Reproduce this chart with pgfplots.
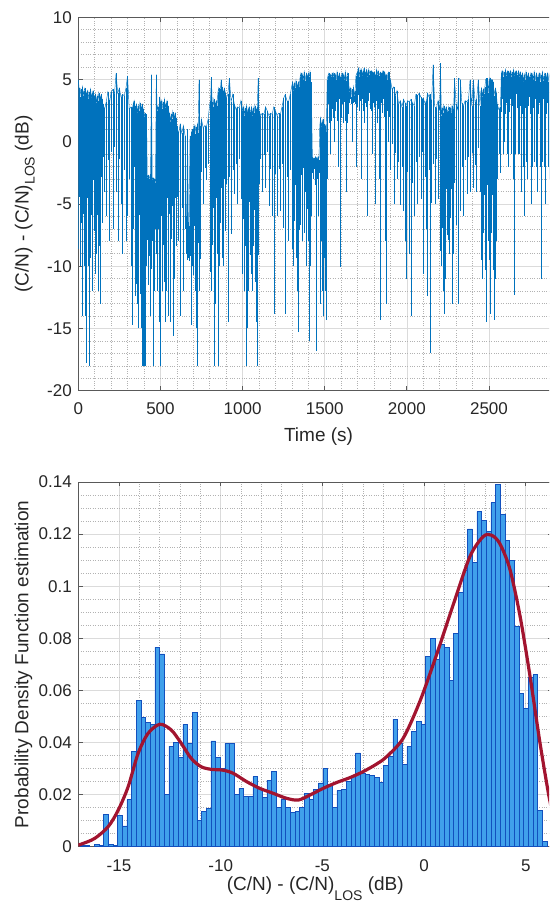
\documentclass[border=0pt]{standalone}
\usepackage{fontspec}
\setmainfont{Liberation Sans}
\usepackage{pgfplots}
\usepackage{pgfplotstable}
\pgfplotsset{compat=1.18}
\definecolor{mblue}{HTML}{0072BD}
\definecolor{mred}{HTML}{A2142F}
\definecolor{barfill}{RGB}{64,160,235}
\definecolor{baredge}{RGB}{18,80,190}
\pgfplotsset{
  mystyle/.style={
    scale only axis,
    axis line style={black!65, line width=0.8pt},
    tick align=inside,
    major tick length=4.5pt,
    minor tick length=0pt,
    major tick style={black!65, line width=0.8pt},
    grid=both,
    major grid style={black!14, line width=0.6pt},
    minor grid style={black!30, dotted, line width=0.6pt},
    /pgf/number format/assume math mode=true,
    /pgf/number format/1000 sep={},
    tick label style={font=\fontsize{17}{17}\selectfont, text=black!85},
    label style={font=\fontsize{19}{19}\selectfont, text=black!85},
    xticklabel style={anchor=base, inner sep=0pt, yshift=-24.3pt},
    yticklabel style={anchor=east, inner sep=0pt, xshift=-6.3pt},
  }
}
% time series: upper and lower excursion (dB) in each short time slot
\pgfplotstableread{
t top bot
0 5 -8.6
5 4.3 -4.4
10 3.6 -10
15 4.2 -6.5
20 3.8 -3.7
25 4.4 -14
30 3.7 -5.8
35 4.1 -10
40 4.3 -14
45 3.9 -7.2
50 3.8 -17.8
55 4.1 -4.5
60 3.4 -10
65 4.0 -18
70 3.6 -3.8
75 4.2 -9.3
80 3.5 -5.9
85 3.9 -12
90 4.1 -3.1
95 3.7 -7.2
100 3.5 -7.8
105 3.8 -10.6
110 3.1 -9
115 3.7 -5.9
120 3.3 -12
125 3.9 -8.4
130 3.2 -5.3
135 3.6 -13
140 3.8 -2.8
145 3.4 -6.5
150 3 -1.2
160 2.6 -4
170 3.2 -6
180 4.0 -1.5
190 3.1 -8
200 4 -0.8
210 4.2 -7
220 3.8 -0.4
230 5.5 -4
240 3.9 -8
250 4.3 -1.4
260 3.6 -5
270 3.8 -9
280 3.7 -2.3
290 4.3 -8
300 5.3 -6
310 2.6 -3
320 2.8 -10
330 2.7 -14.7
335 3.1 -7
340 3.3 -2
345 2.9 -12.4
350 2.7 -11.4
355 3.0 -6.7
360 2.3 -13
365 2.9 -15
370 2.5 -5.9
375 3.1 -12.2
380 2.4 -8.3
385 2.8 -15
390 3.0 -18
395 2.6 -18
400 2 -18
405 2.3 -9
410 1.6 -18
415 2.2 -10
420 -2.9 -7.9
425 -2.7 -11.5
430 -3.0 -9.2
435 -2.8 -12
440 -2.6 -14
445 5.4 -10.2
450 -3.1 -8
455 -2.9 -18
460 -3.2 -10
465 -3.0 -12
470 -3.3 -7
475 5.4 -9
480 2.5 -12
485 2.8 -7
490 2.2 -14.5
495 3.6 -9
500 3 -18
505 3.3 -6
510 2.6 -12
515 3.2 -8.3
520 2.8 -5.3
525 3.4 -11.3
530 2.7 -14.5
535 3.1 -12
540 3.3 -4.5
545 2.9 -14
550 2 -9.7
555 2.3 -5.8
560 1.6 -14.5
565 2.2 -7.8
570 1.8 -5.2
575 2.4 -10.4
580 1.7 -15.6
585 2.1 -11
590 2.3 -4.5
595 1.9 -8.4
600 1.3 -4.4
610 0.6 -8
620 1.4 -14
630 0.7 -5.3
640 1.3 -12
650 0.5 -7
655 -6.0 -9
660 -6.3 -9.5
665 1.0 -9
670 -6.5 -9.3
675 -6.8 -9.6
680 0.5 -9.2
685 -6.2 -9.5
690 0.8 -14.7
695 1.0 -10
700 1 -10.7
705 1.3 -6.8
710 0.6 -12
715 1.2 -15
720 0.8 -6.2
725 1.4 -18
730 0.7 -8.1
735 5.0 -12
740 1.3 -5.5
745 0.9 -9.4
750 1.8 -2.4
760 1.1 -5
770 1.3 -2.1
780 1.2 -3.1
790 1.8 -1.8
800 3 -10.5
805 3.3 -6
810 5.2 -12
815 3.2 -8.3
820 2.8 -5.3
825 3.4 -18
830 2.7 -7.5
835 3.1 -13
840 3.3 -4.5
845 2.9 -9
850 4 -18
855 4.3 -4.4
860 3.6 -10
865 4.2 -6.5
870 5.0 -3.7
875 4.4 -9.3
880 3.7 -5.8
885 4.1 -10
890 4.3 -3
895 3.9 -7.2
900 3.5 -3.4
910 3.8 -14.5
920 5.1 -2.8
930 3.2 -7.4
940 3.8 -2.3
950 3 -4.2
960 2.6 -1.8
970 2.8 -5
980 2.7 -1.4
990 3.3 -4.6
1000 2.5 -10.6
1005 2.8 -6.2
1010 2.1 -12
1015 2.7 -8.4
1020 2.3 -18
1025 2.9 -11.3
1030 2.2 -15
1035 2.6 -12
1040 2.8 -4.8
1045 2.4 -9.1
1050 2.5 -10.6
1055 2.8 -6.2
1060 2.1 -12
1065 2.7 -8.4
1070 2.3 -5.5
1075 2.9 -11.3
1080 2.2 -14.5
1085 2.6 -12
1090 2.8 -18
1095 5.1 -9.1
1100 2.5 -3.4
1110 2.1 -1.4
1120 2.3 -4
1130 2.2 -1.1
1140 2.8 -3.7
1150 2.5 -0.8
1160 2.1 -5.2
1170 2.3 -2.2
1180 2.2 -6
1190 2.8 -13.8
1200 2.5 -2.6
1210 2.1 -6
1220 2.3 -2.2
1230 2.2 -5.6
1240 2.8 -1.8
1250 3.5 -6.9
1260 3.8 -13.8
1270 3.3 -2.8
1280 3.2 -8
1290 3.8 -2.3
1300 4.5 -8.6
1305 4.8 -4.2
1310 4.1 -10
1315 4.7 -6.4
1320 4.3 -3.5
1325 4.9 -9.3
1330 4.2 -12
1335 4.6 -10
1340 4.8 -15.3
1345 4.4 -7.1
1350 5.2 -6.7
1355 5.5 -2.7
1360 4.8 -8
1365 5.4 -4.7
1370 5.0 -2.1
1375 5.6 -7.3
1380 4.9 -4
1385 5.3 -10
1390 5.5 -1.4
1395 5.1 -5.4
1400 5.5 -8
1405 5.2 -16
1410 5.6 -10
1415 4.8 -3
1420 3.0 -6
1425 -1.2 -2.5
1430 -1.4 -3
1435 -1.3 -2.2
1440 -1.5 -3.5
1445 -1.2 -2.8
1450 -1.3 -16.8
1455 -1.4 -3
1460 -1.2 -6
1465 -1.5 -2.5
1470 1.3 -13
1475 1.9 -11.3
1480 1.2 -8
1485 1.6 -12
1490 1.8 -14
1495 1.4 -9.3
1500 1.0 -12
1505 1.3 -8
1510 0.8 -14.3
1515 5.0 -3
1520 5.3 3.0
1525 5.5 1.5
1530 5.1 2.45
1535 5.4 -1
1540 5.2 1.7
1545 5.5 2.65
1550 5.2 1.9
1555 5.5 3.0
1560 4.8 0
1565 5.4 2.45
1570 5.0 3.2
1575 5.6 1.7
1580 4.9 -2
1585 5.3 1.5
1590 5.5 3.4
1595 5.1 -10.1
1600 5.2 1.9
1605 5.5 3.0
1610 4.8 1.5
1615 5.4 2.45
1620 5.0 3.2
1625 5.6 1.7
1630 4.9 -4
1635 5.3 1.5
1640 5.5 3.4
1645 5.1 2.25
1650 4.0 3.1
1655 4.3 3.4
1660 3.6 3.0
1665 4.2 3.3
1670 3.8 0
1675 4.4 3.1
1680 3.7 3.2
1685 4.1 3.0
1690 5.3 -2
1695 5.5 3.5
1700 5.6 2.8
1705 5.9 3.75
1710 5.2 2.5
1715 5.8 3.3
1720 5.4 -3
1725 5.8 2.65
1730 5.3 3.45
1735 5.7 2.5
1740 5.9 1.5
1745 5.5 3.1
1750 5.6 2.8
1755 5.8 3.75
1760 5.2 -6
1765 5.8 3.3
1770 5.4 3.9
1775 5.7 2.65
1780 5.3 3.45
1785 5.7 2.5
1790 5.6 -1
1795 5.5 3.1
1800 5.6 2.8
1805 5.4 2.0
1810 5.2 -5
1815 5.8 3.3
1820 5.4 1.5
1825 5.7 2.65
1830 5.3 -3
1835 5.5 -14.3
1840 5.6 2.5
1845 5.5 3.1
1850 5.5 2.3
1855 5.7 3.4
1860 5.2 2
1865 5.6 2.8
1870 5.3 -8
1875 5.4 -13
1880 5.0 2.5
1885 5.5 0
1890 5.6 3
1895 5.2 2
1900 5.0 -2.3
1910 4.2 -0.2
1920 4.4 -5
1930 3.7 -0.9
1940 4.1 -3
1950 3 -1.6
1960 3.3 -5.1
1970 2.8 -2
1980 3.4 -5.6
1990 3.1 -8
1995 2.9 -11
2005 3.3 -2.4
2015 3.2 -9
2025 3.4 -14
2035 3.1 -3.3
2045 2.9 -6
2055 3.8 -1.6
2065 3.7 -5
2075 3.9 -1.2
2085 3.6 -4.6
2095 3.4 -0.8
2100 3.5 -10.6
2110 3.1 -2.8
2120 3.3 -7
2125 3.9 -12.4
2135 3.6 -2.3
2140 3.8 -17
2150 3 -4.9
2160 6.2 -1.8
2170 2.8 -5
2180 2.7 -1.4
2190 3.3 -4.6
2200 2.5 -8.8
2205 6.3 -5
2210 2.1 -10
2215 2.7 -6.9
2220 2.3 -12
2225 2.9 -9.4
2230 2.2 -13.8
2235 2.6 -11
2240 2.8 -3.8
2245 2.4 -7.5
2250 2.5 -7.9
2255 2.8 -4.4
2260 2.1 -9
2265 2.7 -6.1
2270 2.3 -3.8
2275 2.9 -13
2280 2.2 -5.6
2285 2.6 -9
2290 5.1 -3.3
2300 3 -6.7
2310 2.6 -13
2315 5.1 -2.4
2325 5.0 -5.6
2335 3.1 -2
2345 2.9 -6
2355 3.3 -1.5
2365 3.2 -4.2
2375 3.4 -1.2
2385 5.0 -4
2395 2.9 -0.9
2405 5.0 -3.7
2415 3.2 -1.9
2425 3.4 -4
2435 5.0 -0.5
2445 2.9 -4
2450 4 -9.5
2455 4.3 -5
2460 3.6 -11
2465 4.2 -7.3
2470 3.8 -4.3
2475 4.4 -10.3
2480 5.0 -14.5
2485 5.1 -11
2490 5.1 -3.5
2495 3.9 -8
2500 4.9 -9.5
2505 5.1 -5
2510 3.6 -13.8
2515 5.0 -7.3
2520 5.0 -4.3
2525 4.8 -10.3
2530 3.7 -14.3
2535 4.1 -11
2540 4.3 -3.5
2545 3.9 -8
2550 3 -3
2560 2.6 -1
2570 2.8 -2.5
2575 5.5 2.4
2580 5.7 3.4
2585 5.2 -1
2590 5.6 2.9
2595 5.4 0
2600 5.8 2.2
2605 5.3 3.1
2610 5.6 -1
2615 5.7 -2
2620 5.4 2.7
2625 5.5 2.4
2630 5.7 3.4
2635 5.2 -1
2640 5.6 2.9
2645 5.4 -3
2650 5.8 2.2
2655 5.3 -12.3
2660 5.6 -1
2665 5.7 3.8
2670 5.4 2.7
2675 5.5 -1
2680 5.7 3.4
2685 5.2 -1
2690 5.6 2.9
2695 5.4 -4
2700 5.2 2.2
2705 5.5 3.1
2710 4.8 -2
2715 5.4 -6
2720 5.0 2.7
2725 5.6 -1.6
2730 4.9 3.4
2735 5.3 -3
2740 5.5 2.9
2745 5.1 3.6
2750 5.2 2.2
2755 5.5 -5
2760 4.8 -2
2765 5.4 3.8
2770 5.0 2.7
2775 5.6 -1.6
2780 4.9 3.4
2785 5.3 -2
2790 5.5 2.9
2795 5.1 -4
2800 5.2 2.2
2805 5.5 3.1
2810 4.8 -2
2815 5.4 -11
2820 5.0 2.7
2825 5.6 -1.6
2830 4.9 3.4
2835 5.3 -2
2840 5.5 2.9
2845 5.1 -5
2850 5.2 2.2
2855 5.5 3.1
2860 4.8 -2
2865 5.4 -3
2870 5.0 2.7
2875 5.6 -1.6
}\tsdata
\begin{document}
\begin{tikzpicture}
\useasboundingbox (0,0) rectangle (549pt,907pt);
\clip (0,0) rectangle (549pt,907pt);
% ---------------- top axis ----------------
\begin{axis}[mystyle,
  at={(78.3pt,516.3pt)}, anchor=south west,
  width=480.5pt, height=373.4pt,
  xmin=0, xmax=2925, ymin=-20, ymax=10,
  xtick={0,500,1000,1500,2000,2500},
  ytick={-20,-15,-10,-5,0,5,10},
  minor x tick num=4, minor y tick num=4,
  xlabel={Time (s)},
  xlabel style={at={(axis description cs:0.5,0)}, anchor=base, yshift=-51.3pt},
  ylabel={(C/N) - (C/N)\raisebox{-6pt}{\fontsize{14}{14}\selectfont LOS} (dB)},
  ylabel style={at={(axis description cs:-0.1036,0.5)}, anchor=base},
]
\addplot[mblue, line width=0.45pt, mark=none,
  error bars/.cd, y dir=minus, y explicit,
  error bar style={mblue, line width=0.38pt}, error mark=none]
  table[x=t, y=top, y error minus expr=\thisrow{top}-\thisrow{bot}] {\tsdata};
\end{axis}
% ---------------- bottom axis ----------------
\begin{axis}[mystyle,
  at={(78.3pt,60.3pt)}, anchor=south west,
  width=473.9pt, height=364.7pt,
  xmin=-17, xmax=6.3, ymin=0, ymax=0.14,
  xtick={-15,-10,-5,0,5},
  ytick={0,0.02,0.04,0.06,0.08,0.1,0.12,0.14},
  yticklabels={0,0.02,0.04,0.06,0.08,0.1,0.12,0.14},
  minor x tick num=4, minor y tick num=3,
  xlabel={(C/N) - (C/N)\raisebox{-10pt}{\fontsize{14}{14}\selectfont LOS} (dB)},
  xlabel style={at={(axis description cs:0.5,0)}, anchor=base, yshift=-43.3pt},
  ylabel={Probability Density Function estimation},
  ylabel style={at={(axis description cs:-0.1051,0.5)}, anchor=base},
]
\addplot[ybar, bar width=0.2294, fill=barfill, draw=baredge, line width=0.7pt] coordinates {
(-16.785,0.0006) (-16.556,0.0005) (-16.097,0.001) (-15.868,0.0006) (-15.638,0.0125) (-15.409,0.001) (-15.179,0.0005)
(-14.950,0.012) (-14.721,0.008) (-14.491,0.018) (-14.262,0.0365) (-14.032,0.056) (-13.803,0.0495) (-13.574,0.0476) (-13.344,0.047)
(-13.115,0.0765) (-12.885,0.074) (-12.656,0.020) (-12.427,0.0386) (-12.197,0.040) (-11.968,0.0343) (-11.738,0.047) (-11.509,0.0397)
(-11.280,0.0514) (-11.050,0.010) (-10.821,0.0137) (-10.591,0.0146) (-10.362,0.0406) (-10.133,0.0342) (-9.903,0.030) (-9.674,0.0397)
(-9.444,0.0397) (-9.215,0.020) (-8.986,0.0224) (-8.756,0.0192) (-8.527,0.0192) (-8.297,0.0269) (-8.068,0.0225) (-7.839,0.019)
(-7.609,0.0256) (-7.380,0.029) (-7.150,0.015) (-6.921,0.018) (-6.692,0.015) (-6.462,0.013) (-6.233,0.0135) (-6.003,0.015)
(-5.774,0.0205) (-5.545,0.018) (-5.315,0.022) (-5.086,0.0245) (-4.856,0.030) (-4.627,0.024) (-4.398,0.015) (-4.168,0.0215)
(-3.939,0.022) (-3.709,0.025) (-3.480,0.027) (-3.251,0.036) (-3.021,0.028) (-2.792,0.0278) (-2.562,0.0275) (-2.333,0.0266)
(-2.104,0.0247) (-1.874,0.0313) (-1.645,0.0345) (-1.415,0.0489) (-1.186,0.0397) (-0.957,0.0316) (-0.727,0.0384) (-0.498,0.0444)
(-0.268,0.048) (-0.039,0.047) (0.190,0.073) (0.420,0.0798) (0.649,0.0719) (0.879,0.0777) (1.108,0.0765) (1.337,0.0637)
(1.567,0.0819) (1.796,0.0976) (2.026,0.106) (2.255,0.122) (2.484,0.109) (2.714,0.1286) (2.943,0.1254) (3.173,0.121)
(3.402,0.132) (3.631,0.139) (3.861,0.1276) (4.090,0.1176) (4.320,0.110) (4.549,0.0845) (4.778,0.059) (5.008,0.053)
(5.237,0.065) (5.467,0.066) (5.696,0.014) (5.926,0.002)
};
\addplot[mred, line width=3.2pt, smooth] coordinates {
(-17,0.0007) (-16.85,0.001) (-16.19,0.0032) (-15.53,0.0077) (-15.04,0.014) (-14.55,0.023) (-14.06,0.0358) (-13.57,0.0435)
(-12.99,0.047) (-12.43,0.0448) (-11.94,0.0397) (-11.45,0.0339) (-10.96,0.0307) (-10.47,0.0297) (-9.90,0.0294) (-9.39,0.0282)
(-8.73,0.025) (-8.08,0.0224) (-7.42,0.0205) (-6.77,0.0186) (-6.19,0.0179) (-5.62,0.0198) (-4.96,0.0224) (-4.31,0.0246)
(-3.65,0.0265) (-3.00,0.0288) (-2.34,0.0317) (-1.85,0.0345) (-1.03,0.0416) (-0.21,0.0557) (0.61,0.0736) (1.43,0.0928)
(2.25,0.1113) (2.90,0.119) (3.31,0.1196) (3.72,0.1164) (4.21,0.1068) (4.71,0.0889) (5.20,0.0659) (5.69,0.0403) (6.13,0.0198) (6.4,0.01)
};
\end{axis}
\end{tikzpicture}
\end{document}
